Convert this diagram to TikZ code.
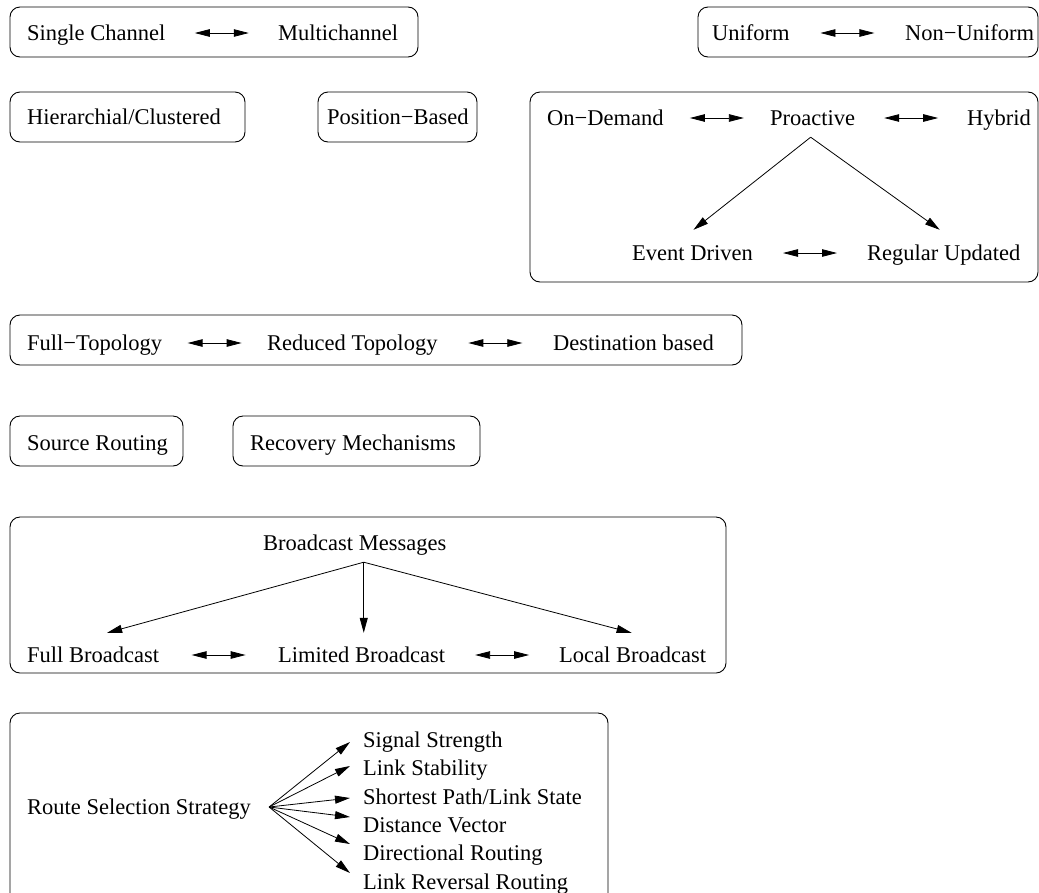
\documentclass[tikz,border=0pt]{standalone}
\usepackage{fontspec}
\setmainfont{Liberation Serif}
\usetikzlibrary{calc,arrows.meta}

% double arrow of fixed length, centred between two labels
\newcommand{\twoarrow}[2]{%
  \draw[twoway] ($(#1.east)!0.5!(#2.west)+(-27,0)$) -- ($(#1.east)!0.5!(#2.west)+(27,0)$);}

\begin{document}
\begin{tikzpicture}[x=1pt,y=-1pt,
  lbl/.style={anchor=west,inner sep=0pt,text height=16pt,text depth=2pt,
    font=\fontsize{22.5pt}{27pt}\selectfont},
  frame/.style={draw,line width=0.9pt,rounded corners=10pt},
  tip/.style={-{Triangle[length=15pt,width=8pt]},line width=0.8pt},
  twoway/.style={{Triangle[length=15pt,width=7.5pt]}-{Triangle[length=15pt,width=7.5pt]},line width=0.8pt}]
\useasboundingbox (0,0) rectangle (1039,892);

% boxes
\draw[frame] (10,7) rectangle (418,57);
\draw[frame] (698,7) rectangle (1038,57);
\draw[frame] (10,92) rectangle (245,142);
\draw[frame] (318,92) rectangle (477,142);
\draw[frame] (530,92) rectangle (1038,282);
\draw[frame] (10,315) rectangle (742,365);
\draw[frame] (10,416) rectangle (183,466);
\draw[frame] (233,416) rectangle (480,466);
\draw[frame] (10,517) rectangle (726,673);
\draw[frame] (10,713) rectangle (608,905);

% channels and uniformity
\node[lbl] (sgl) at (27,33) {Single Channel};
\node[lbl] (mch) at (278,33) {Multichannel};
\node[lbl] (uni) at (712,33) {Uniform};
\node[lbl] (nonu) at (905,33) {Non−Uniform};
\twoarrow{sgl}{mch}
\twoarrow{uni}{nonu}

\node[lbl] (hier) at (27,117) {Hierarchial/Clustered};
\node[lbl] (pos) at (327,117) {Position−Based};

% on-demand / proactive / hybrid
\node[lbl] (ond) at (547,118) {On−Demand};
\node[lbl] (pro) at (770,118) {Proactive};
\node[lbl] (hyb) at (967,118) {Hybrid};
\node[lbl] (evt) at (632,253) {Event Driven};
\node[lbl] (reg) at (867,253) {Regular Updated};
\twoarrow{ond}{pro}
\twoarrow{pro}{hyb}
\twoarrow{evt}{reg}
\coordinate (proFork) at ($(pro.south)+(-2,10)$);
\draw[tip] (proFork) -- ($(evt.north)+(1,-14)$);
\draw[tip] (proFork) -- ($(reg.north)+(-4,-14)$);

% topology
\node[lbl] (full) at (27,343) {Full−Topology};
\node[lbl] (red) at (267,343) {Reduced Topology};
\node[lbl] (dest) at (553,343) {Destination based};
\twoarrow{full}{red}
\twoarrow{red}{dest}

\node[lbl] (src) at (27,443) {Source Routing};
\node[lbl] (rec) at (250,443) {Recovery Mechanisms};

% broadcast
\node[lbl] (bmsg) at (263,543) {Broadcast Messages};
\node[lbl] (fbc) at (27,655) {Full Broadcast};
\node[lbl] (lbc) at (278,655) {Limited Broadcast};
\node[lbl] (locb) at (559,655) {Local Broadcast};
\twoarrow{fbc}{lbc}
\twoarrow{lbc}{locb}
\coordinate (bcFork) at ($(bmsg.south)+(9,10)$);
\coordinate (lbcTip) at ($(lbc.north)+(0,-13)$);
\draw[tip] (bcFork) -- ($(fbc.north)+(14,-13)$);
\draw[tip] (bcFork) -- (bcFork |- lbcTip);
\draw[tip] (bcFork) -- ($(locb.north)+(-1,-13)$);

% route selection
\node[lbl] (rss) at (27,807) {Route Selection Strategy};
\node[lbl] (sig) at (363,740) {Signal Strength};
\node[lbl] (stab) at (363,768) {Link Stability};
\node[lbl] (spath) at (363,797) {Shortest Path/Link State};
\node[lbl] (dvec) at (363,825) {Distance Vector};
\node[lbl] (dir) at (363,853) {Directional Routing};
\node[lbl] (lrev) at (363,882) {Link Reversal Routing};
\coordinate (rssFork) at ($(rss.east)+(18,0)$);
\draw[tip] (rssFork) -- ($(sig.west)+(-13,2)$);
\draw[tip] (rssFork) -- ($(stab.west)+(-13,-2)$);
\draw[tip] (rssFork) -- ($(spath.west)+(-13,1)$);
\draw[tip] (rssFork) -- ($(dvec.west)+(-13,-8)$);
\draw[tip] (rssFork) -- ($(dir.west)+(-13,-9)$);
\draw[tip] (rssFork) -- ($(lrev.west)+(-13,-9)$);

\end{tikzpicture}
\end{document}
